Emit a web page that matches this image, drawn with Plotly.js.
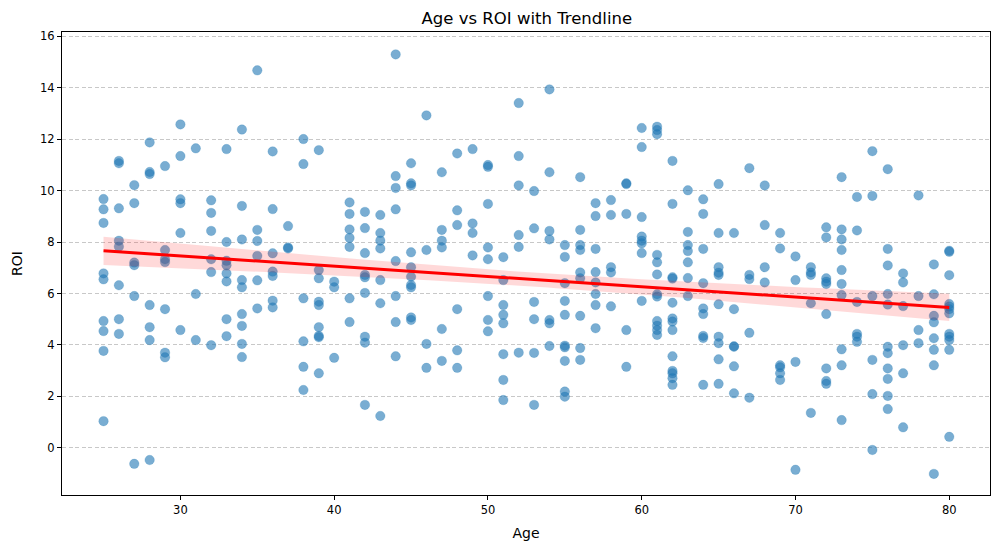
<!DOCTYPE html>
<html>
<head>
<meta charset="utf-8">
<script src="https://cdn.plot.ly/plotly-3.0.1.min.js"></script>
<style>html,body{margin:0;padding:0;background:#fff;}#chart{width:1001px;height:552px;}</style>
</head>
<body>
<div id="chart"></div>
<script>
// Ages (x categories) and ROI values observed at each age
const ages = [25,26,27,28,29,30,31,32,33,34,35,36,37,38,39,40,41,42,43,44,45,46,47,48,49,50,51,52,53,54,55,56,57,58,59,60,61,62,63,64,65,66,67,68,69,70,71,72,73,74,75,76,77,78,79,80];
const roiByAge = [
  [9.67, 9.27, 8.74, 6.78, 6.55, 4.93, 4.54, 3.77, 1.04],
  [11.15, 11.06, 9.31, 8.05, 7.82, 6.32, 5.0, 4.43],
  [10.21, 9.51, 7.2, 7.1, 5.9, -0.62],
  [11.87, 10.72, 10.64, 5.55, 4.69, 4.19, -0.47],
  [10.95, 7.69, 7.33, 7.22, 5.39, 3.70, 3.52],
  [12.57, 11.34, 9.66, 9.51, 8.35, 4.58],
  [11.64, 5.98, 4.19],
  [9.62, 9.13, 8.43, 7.33, 6.83, 3.99],
  [11.61, 8.0, 7.27, 7.1, 6.78, 6.47, 5.0, 4.34],
  [12.37, 9.40, 8.10, 6.52, 6.24, 5.20, 4.74, 4.04, 3.53],
  [14.67, 8.47, 8.04, 7.46, 6.51, 5.42],
  [11.52, 9.28, 7.56, 6.85, 6.68, 5.72, 5.46],
  [8.62, 7.79, 7.75],
  [12.0, 11.03, 5.81, 4.14, 3.15, 2.25],
  [11.57, 6.91, 6.59, 5.68, 5.55, 4.69, 4.35, 4.30, 2.90],
  [6.46, 6.24, 3.50],
  [9.54, 9.09, 8.49, 8.16, 7.81, 5.81, 4.89],
  [9.17, 8.54, 7.57, 6.72, 6.63, 6.02, 4.32, 4.09, 1.67],
  [9.05, 8.35, 8.05, 7.75, 6.52, 5.62, 1.24],
  [15.29, 10.56, 10.10, 9.27, 7.26, 5.90, 4.89, 3.56],
  [11.06, 10.28, 10.2, 7.6, 7.02, 6.65, 6.33, 6.24, 5.07, 4.97],
  [12.92, 7.69, 4.04, 3.11],
  [10.71, 8.47, 8.05, 7.79, 4.62, 3.38],
  [11.44, 9.23, 8.66, 5.39, 3.79, 3.11],
  [11.61, 8.72, 8.35, 7.48],
  [10.99, 10.92, 9.48, 7.79, 7.33, 5.90, 4.97, 4.53],
  [7.41, 6.52, 5.55, 5.17, 4.84, 3.64, 2.64, 1.86],
  [13.40, 11.34, 10.2, 8.27, 7.81, 3.70],
  [9.98, 8.53, 5.67, 5.0, 3.69, 1.67],
  [13.93, 10.71, 8.43, 8.10, 4.97, 4.84, 3.96],
  [7.88, 7.42, 6.40, 5.71, 5.17, 3.97, 3.91, 3.38, 2.19, 1.99],
  [10.52, 8.47, 7.88, 7.69, 6.82, 6.59, 5.13, 3.88, 3.42],
  [9.51, 9.01, 7.73, 6.83, 6.43, 5.98, 5.55, 4.65],
  [9.63, 9.05, 7.02, 6.82, 5.50],
  [10.28, 10.25, 9.09, 4.58, 3.15],
  [12.43, 11.69, 8.97, 8.21, 8.05, 7.95, 7.57, 5.71],
  [12.48, 12.35, 12.19, 7.50, 7.21, 6.74, 5.97, 5.88, 4.93, 4.75, 4.58, 4.39],
  [11.15, 9.48, 6.63, 6.58, 5.64, 5.03, 4.91, 4.58, 3.56, 2.99, 2.90, 2.71, 2.45],
  [10.01, 8.39, 7.88, 7.65, 7.21, 6.60, 5.90],
  [9.66, 9.09, 7.73, 6.40, 5.42, 5.20, 4.35, 4.27, 2.45],
  [10.25, 8.35, 7.02, 6.81, 6.72, 5.58, 4.32, 4.07, 3.44, 2.49],
  [8.35, 5.39, 3.95, 3.93, 3.17, 2.12],
  [10.87, 6.72, 6.56, 4.47, 1.95],
  [10.20, 8.66, 7.02, 6.43],
  [8.35, 7.75, 3.21, 3.13, 2.90, 2.64],
  [7.44, 6.52, 3.34, -0.85],
  [7.02, 6.82, 6.72, 5.62, 1.36],
  [8.57, 8.18, 6.59, 6.46, 6.37, 5.20, 3.09, 2.60, 2.49],
  [10.52, 8.49, 8.10, 7.69, 6.91, 6.37, 5.94, 3.83, 3.21, 1.08],
  [9.75, 8.45, 5.67, 4.43, 4.32, 4.12],
  [11.53, 9.79, 5.90, 3.42, 2.09, -0.08],
  [10.83, 7.73, 7.09, 5.98, 5.57, 3.93, 3.68, 3.09, 2.68, 2.02, 1.51],
  [6.78, 6.43, 5.51, 3.99, 2.90, 0.80],
  [9.81, 5.90, 4.58, 4.07],
  [7.13, 5.97, 5.13, 4.88, 4.26, 3.81, 3.21, -1.01],
  [7.66, 7.62, 6.71, 5.59, 5.49, 5.39, 5.23, 4.43, 4.32, 4.19, 3.81, 0.43]
];
const xTicks = [30, 40, 50, 60, 70, 80];
const yTicks = [0, 2, 4, 6, 8, 10, 12, 14, 16];

// flatten
const xs = [], ys = [];
ages.forEach((a, i) => roiByAge[i].forEach(v => { xs.push(a); ys.push(v); }));

// OLS fit with 95% confidence band
const n = xs.length;
const mx = xs.reduce((s, v) => s + v, 0) / n;
const my = ys.reduce((s, v) => s + v, 0) / n;
let sxx = 0, sxy = 0;
for (let i = 0; i < n; i++) { sxx += (xs[i]-mx)**2; sxy += (xs[i]-mx)*(ys[i]-my); }
const b = sxy / sxx, a0 = my - b * mx;
let sse = 0;
for (let i = 0; i < n; i++) { sse += (ys[i] - (a0 + b*xs[i]))**2; }
const s = Math.sqrt(sse / (n - 2));
const tcrit = 1.966;
const xmin = Math.min(...xs), xmax = Math.max(...xs);
const gx = [], gy = [], lo = [], hi = [];
for (let k = 0; k < 100; k++) {
  const x = xmin + (xmax - xmin) * k / 99;
  const yhat = a0 + b * x;
  const se = s * Math.sqrt(1/n + (x-mx)**2 / sxx);
  gx.push(x); gy.push(yhat); lo.push(yhat - tcrit*se); hi.push(yhat + tcrit*se);
}

const traces = [
  {x: xs, y: ys, type: 'scatter', mode: 'markers',
   marker: {color: 'rgba(31,119,180,0.6)', size: 9.5, line: {color: 'rgba(31,119,180,0.35)', width: 0.6}},
   hoverinfo: 'x+y', showlegend: false},
  {x: gx.concat(gx.slice().reverse()), y: hi.concat(lo.slice().reverse()), type: 'scatter', mode: 'lines',
   fill: 'toself', fillcolor: 'rgba(255,0,0,0.15)', line: {width: 0}, hoverinfo: 'skip', showlegend: false},
  {x: gx, y: gy, type: 'scatter', mode: 'lines', line: {color: 'red', width: 3}, showlegend: false}
];

const font = 'DejaVu Sans, sans-serif';
const layout = {
  width: 1001, height: 552,
  margin: {l: 62, r: 11, t: 32, b: 57},
  paper_bgcolor: '#fff', plot_bgcolor: '#fff',
  font: {family: font, color: '#000', size: 11.5},
  title: {text: 'Age vs ROI with Trendline', font: {size: 16.5, family: font, color: '#000'}, x: 0.5263, xanchor: 'center', y: 0.967, yanchor: 'middle'},
  xaxis: {
    range: [22.3, 82.65], tickvals: xTicks, ticks: 'outside', ticklen: 4, tickwidth: 1, tickcolor: '#000',
    showgrid: false, zeroline: false, showline: true, linecolor: '#000', linewidth: 1, mirror: true,
    title: {text: 'Age', font: {size: 14, family: font}, standoff: 12}, tickfont: {size: 11.5}
  },
  yaxis: {
    range: [-1.83, 16.16], tickvals: yTicks, ticks: 'outside', ticklen: 4, tickwidth: 1, tickcolor: '#000',
    showgrid: true, gridcolor: '#c8c8c8', griddash: '4px,2.5px', gridwidth: 1,
    zeroline: false, showline: true, linecolor: '#000', linewidth: 1, mirror: true,
    title: {text: 'ROI', font: {size: 14, family: font}, standoff: 14}, tickfont: {size: 11.5}
  }
};
Plotly.newPlot('chart', traces, layout, {staticPlot: true, displayModeBar: false});
</script>
</body>
</html>
